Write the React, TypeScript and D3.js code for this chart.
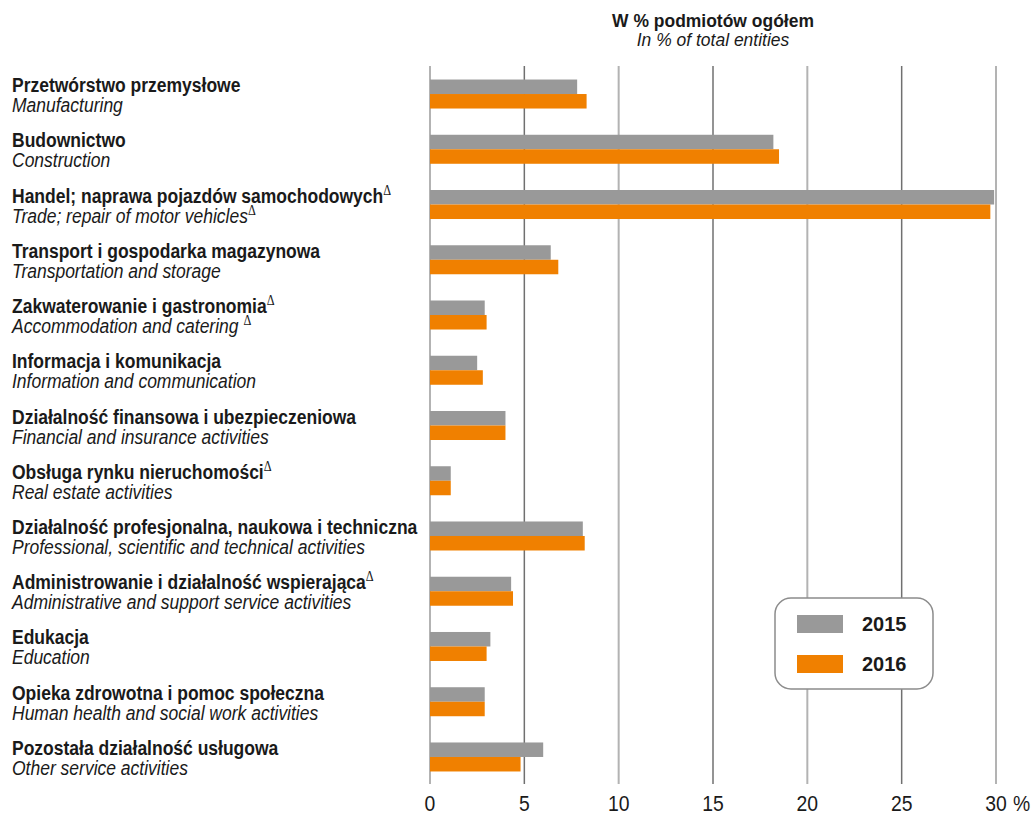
import * as d3 from 'd3';
import type { ReactNode } from 'react';

const categoriesPl = [
  'Przetwórstwo przemysłowe',
  'Budownictwo',
  'Handel; naprawa pojazdów samochodowych',
  'Transport i gospodarka magazynowa',
  'Zakwaterowanie i gastronomia',
  'Informacja i komunikacja',
  'Działalność finansowa i ubezpieczeniowa',
  'Obsługa rynku nieruchomości',
  'Działalność profesjonalna, naukowa i techniczna',
  'Administrowanie i działalność wspierająca',
  'Edukacja',
  'Opieka zdrowotna i pomoc społeczna',
  'Pozostała działalność usługowa',
];

const categoriesEn = [
  'Manufacturing',
  'Construction',
  'Trade; repair of motor vehicles',
  'Transportation and storage',
  'Accommodation and catering ',
  'Information and communication',
  'Financial and insurance activities',
  'Real estate activities',
  'Professional, scientific and technical activities',
  'Administrative and support service activities',
  'Education',
  'Human health and social work activities',
  'Other service activities',
];

// which rows carry the Δ mark (Polish line, English line)
const deltaPl = [false, false, true, false, true, false, false, true, false, true, false, false, false];
const deltaEn = [false, false, true, false, true, false, false, false, false, false, false, false, false];

const years = ['2015', '2016'];
const values2015 = [7.8, 18.2, 29.9, 6.4, 2.9, 2.5, 4.0, 1.1, 8.1, 4.3, 3.2, 2.9, 6.0];
const values2016 = [8.3, 18.5, 29.7, 6.8, 3.0, 2.8, 4.0, 1.1, 8.2, 4.4, 3.0, 2.9, 4.8];
const ticks = [0, 5, 10, 15, 20, 25, 30];

const COLORS: Record<string, string> = { '2015': '#999999', '2016': '#f08000' };
const SANS = "'Liberation Sans', Arial, sans-serif";
const SERIF = "'Liberation Serif', serif";
const TEXT = '#1a1a1a';

// no condensed font installed, so squeeze Liberation Sans horizontally
function Narrow(props: {
  x: number;
  y: number;
  sx?: number;
  size: number;
  bold?: boolean;
  italic?: boolean;
  anchor?: string;
  children: ReactNode;
}) {
  const { x, y, sx = 0.875, size, bold, italic, anchor = 'start', children } = props;
  return (
    <text
      transform={`translate(${x},${y}) scale(${sx},1)`}
      textAnchor={anchor}
      fontFamily={SANS}
      fontSize={size}
      fontWeight={bold ? 'bold' : 'normal'}
      fontStyle={italic ? 'italic' : 'normal'}
      fill={TEXT}
    >
      {children}
    </text>
  );
}

export default function App() {
  const width = 1032;
  const height = 816;

  const x = d3.scaleLinear().domain([0, 30]).range([430, 996]);
  const y = d3
    .scaleBand<string>()
    .domain(categoriesPl)
    .range([66.4, 784.6])
    .paddingInner(0.475)
    .paddingOuter(0.2375);
  const ySub = d3.scaleBand<string>().domain(years).range([0, y.bandwidth()]);

  const series = [
    { year: '2015', values: values2015 },
    { year: '2016', values: values2016 },
  ];

  const gridTop = 66;
  const gridBottom = 784;

  return (
    <svg
      width={width}
      height={height}
      style={{ position: 'absolute', left: 0, top: 0, background: '#fff' }}
    >
      {/* title */}
      <Narrow x={713} y={27} size={19} sx={0.92} bold anchor="middle">
        W % podmiotów ogółem
      </Narrow>
      <Narrow x={713} y={46} size={19} sx={0.92} italic anchor="middle">
        In % of total entities
      </Narrow>

      {/* grid */}
      {ticks.map((t, i) => (
        <line
          key={t}
          x1={x(t)}
          x2={x(t)}
          y1={gridTop}
          y2={gridBottom}
          stroke={i % 2 === 0 ? '#b3b3b3' : '#707070'}
          strokeWidth={i % 2 === 0 ? 2 : 1.5}
        />
      ))}

      {/* bars */}
      {series.map((s) =>
        s.values.map((v, i) => (
          <rect
            key={s.year + i}
            x={x(0)}
            y={(y(categoriesPl[i]) ?? 0) + (ySub(s.year) ?? 0)}
            width={x(v) - x(0)}
            height={ySub.bandwidth()}
            fill={COLORS[s.year]}
          />
        ))
      )}

      {/* category labels */}
      {categoriesPl.map((c, i) => {
        const cy = (y(c) ?? 0) + y.bandwidth() / 2;
        return (
          <g key={c}>
            <Narrow x={12} y={cy - 2} size={20} bold>
              {c}
              {deltaPl[i] && (
                <tspan fontFamily={SERIF} fontWeight="normal" fontSize={14} dy={-8}>
                  Δ
                </tspan>
              )}
            </Narrow>
            <Narrow x={12} y={cy + 18} size={20} italic>
              {categoriesEn[i]}
              {deltaEn[i] && (
                <tspan fontFamily={SERIF} fontStyle="normal" fontSize={14} dy={-8}>
                  Δ
                </tspan>
              )}
            </Narrow>
          </g>
        );
      })}

      {/* x axis labels */}
      {ticks.map((t) => (
        <Narrow key={t} x={x(t)} y={811} size={22} sx={0.88} anchor="middle">
          {t}
        </Narrow>
      ))}
      <Narrow x={x(30) + 17} y={811} size={22} sx={0.88}>
        %
      </Narrow>

      {/* legend */}
      <g>
        <rect x={775} y={598} width={158} height={91} rx={16} fill="#fff" stroke="#8c8c8c" strokeWidth={1.5} />
        {years.map((yr, i) => (
          <g key={yr}>
            <rect x={797} y={615 + i * 40} width={46} height={18} fill={COLORS[yr]} />
            <text x={862} y={631 + i * 40} fontFamily={SANS} fontWeight="bold" fontSize={20} fill={TEXT}>
              {yr}
            </text>
          </g>
        ))}
      </g>
    </svg>
  );
}
